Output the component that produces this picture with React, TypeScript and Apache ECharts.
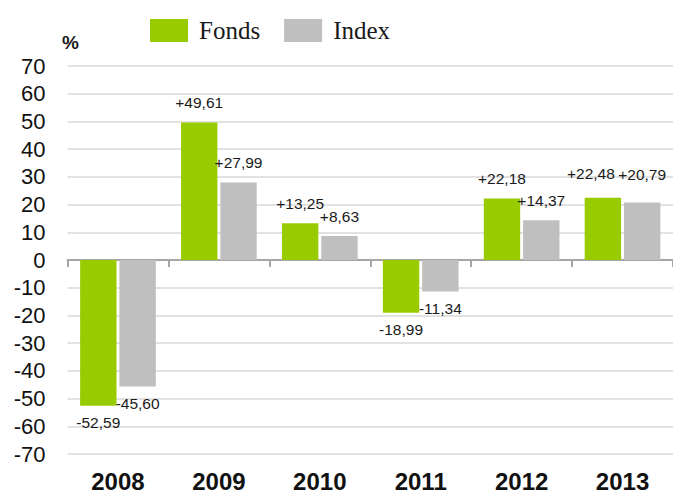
import React, { useEffect, useRef } from 'react';
import * as echarts from 'echarts';

const categories = ['2008', '2009', '2010', '2011', '2012', '2013'];
const fondsValues = [-52.59, 49.61, 13.25, -18.99, 22.18, 22.48];
const indexValues = [-45.6, 27.99, 8.63, -11.34, 14.37, 20.79];
const seriesNames = ['Fonds', 'Index'];
const yMin = -70;
const yMax = 70;
const yInterval = 10;

const fmt = (v: number) => (v > 0 ? '+' : '') + v.toFixed(2).replace('.', ',');

// small manual label nudges (style only), keyed by category index
const fondsLabelNudge: Record<number, number[]> = { 5: [-12, -4] };
const indexLabelNudge: Record<number, number[]> = { 5: [0, -8] };

const toItems = (vals: number[], nudge: Record<number, number[]>) =>
  vals.map((v, i) => ({
    value: v,
    label: {
      position: v < 0 ? 'bottom' : 'top',
      distance: v < 0 ? 9 : 12,
      offset: nudge[i] || [0, 0],
    },
  }));

export default function App() {
  const ref = useRef<HTMLDivElement>(null);
  useEffect(() => {
    if (!ref.current) return;
    const chart = echarts.init(ref.current, undefined, { renderer: 'svg' });
    const labelStyle = {
      show: true,
      formatter: (p: any) => fmt(p.value),
      fontFamily: 'Liberation Sans, Arial, sans-serif',
      fontSize: 15.5,
      color: '#1a1a1a',
    };
    chart.setOption({
      animation: false,
      backgroundColor: '#ffffff',
      textStyle: { fontFamily: 'Liberation Sans, Arial, sans-serif' },
      legend: {
        data: seriesNames,
        left: 150,
        top: 18,
        padding: 0,
        itemWidth: 38,
        itemHeight: 23,
        itemGap: 24,
        icon: 'rect',
        textStyle: {
          fontFamily: 'Liberation Serif, Times New Roman, serif',
          fontSize: 25,
          color: '#1a1a1a',
          padding: [0, 0, 0, 6],
        },
      },
      graphic: [
        {
          type: 'text',
          left: 62,
          top: 33,
          style: {
            text: '%',
            font: 'bold 19px Liberation Sans, Arial, sans-serif',
            fill: '#1a1a1a',
          },
        },
      ],
      grid: { left: 67.5, right: 0, top: 66, bottom: 38 },
      xAxis: [
        {
          type: 'category',
          data: categories,
          position: 'bottom',
          axisLine: { show: false, onZero: false },
          axisTick: { show: false },
          axisLabel: {
            fontSize: 24,
            fontWeight: 'bold',
            color: '#111',
            margin: 15,
            fontFamily: 'Liberation Sans, Arial, sans-serif',
          },
          splitLine: { show: false },
        },
        {
          type: 'category',
          data: categories,
          position: 'bottom',
          axisLine: { show: true, onZero: true, lineStyle: { color: '#a6a6a6', width: 2 } },
          axisTick: { show: true, length: 7, lineStyle: { color: '#a6a6a6', width: 2 } },
          axisLabel: { show: false },
          splitLine: { show: false },
        },
      ],
      yAxis: {
        type: 'value',
        min: yMin,
        max: yMax,
        interval: yInterval,
        axisLine: { show: false },
        axisTick: { show: false },
        axisLabel: {
          fontSize: 22,
          color: '#111',
          margin: 22,
          fontFamily: 'Liberation Sans, Arial, sans-serif',
        },
        splitLine: { lineStyle: { color: '#d9d9d9', width: 1.5 } },
      },
      series: [
        {
          name: seriesNames[0],
          type: 'bar',
          xAxisIndex: 0,
          data: toItems(fondsValues, fondsLabelNudge),
          itemStyle: { color: '#99cc00' },
          barGap: '8%',
          barCategoryGap: '25%',
          label: labelStyle,
        },
        {
          name: seriesNames[1],
          type: 'bar',
          xAxisIndex: 0,
          data: toItems(indexValues, indexLabelNudge),
          itemStyle: { color: '#bfbfbf' },
          barGap: '8%',
          barCategoryGap: '25%',
          label: labelStyle,
        },
      ],
    });
    return () => chart.dispose();
  }, []);
  return (
    <div
      ref={ref}
      style={{ position: 'absolute', left: 0, top: 0, width: 673, height: 493 }}
    />
  );
}
